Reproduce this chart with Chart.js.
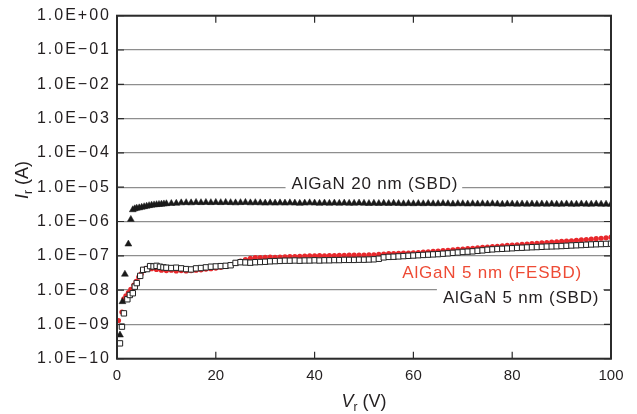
<!DOCTYPE html>
<html><head><meta charset="utf-8">
<script src="https://cdn.jsdelivr.net/npm/chart.js@4.4.1/dist/chart.umd.min.js"></script>
<style>html,body{margin:0;padding:0;background:#fff;}#wrap{width:637px;height:414px;position:relative;}</style>
</head><body><div id="wrap"><canvas id="c"></canvas></div>
<script>
// ---- data ----
const xTickValues = [0, 20, 40, 60, 80, 100];
const yTickValues = [1e-10, 1e-9, 1e-8, 1e-7, 1e-6, 1e-5, 1e-4, 1e-3, 1e-2, 1e-1, 1];
const yTickLabels = ['1.0E\u221210','1.0E\u221209','1.0E\u221208','1.0E\u221207','1.0E\u221206','1.0E\u221205','1.0E\u221204','1.0E\u221203','1.0E\u221202','1.0E\u221201','1.0E+00'];

// AlGaN 20 nm (SBD) – black triangles
const v20 = [0.6,1.1,1.6,2.3,2.8,3.2,3.6,4.0,4.5,5.0,5.5,6.0,6.5,7.0,7.5,8.0,8.5,9.0,9.5,10,
 11,12,13,14,15,16,17,18,19,20,21,22,23,24,25,26,27,28,29,30,31,32,33,34,35,36,37,38,39,40,
 41,42,43,44,45,46,47,48,49,50,51,52,53,54,55,56,57,58,59,60,61,62,63,64,65,66,67,68,69,70,
 71,72,73,74,75,76,77,78,79,80,81,82,83,84,85,86,87,88,89,90,91,92,93,94,95,96,97,98,99,100];
const i20 = [4.9e-10,4.6e-9,2.9e-8,2.2e-7,1.15e-6,2.2e-6,2.35e-6,2.45e-6,2.5e-6,2.6e-6,2.7e-6,2.8e-6,2.9e-6,3.0e-6,3.05e-6,3.1e-6,3.15e-6,3.2e-6,3.25e-6,3.3e-6,
 3.35e-6,3.4e-6,3.5e-6,3.55e-6,3.5e-6,3.6e-6,3.55e-6,3.6e-6,3.55e-6,3.6e-6,
 3.55e-6,3.6e-6,3.55e-6,3.5e-6,3.55e-6,3.6e-6,3.5e-6,3.55e-6,3.5e-6,3.45e-6,
 3.5e-6,3.45e-6,3.5e-6,3.45e-6,3.5e-6,3.45e-6,3.4e-6,3.45e-6,3.5e-6,3.45e-6,
 3.4e-6,3.45e-6,3.4e-6,3.45e-6,3.4e-6,3.45e-6,3.4e-6,3.4e-6,3.45e-6,3.4e-6,
 3.35e-6,3.4e-6,3.35e-6,3.4e-6,3.35e-6,3.4e-6,3.35e-6,3.3e-6,3.35e-6,3.3e-6,
 3.35e-6,3.3e-6,3.35e-6,3.3e-6,3.3e-6,3.35e-6,3.3e-6,3.25e-6,3.3e-6,3.3e-6,
 3.25e-6,3.3e-6,3.25e-6,3.3e-6,3.25e-6,3.3e-6,3.25e-6,3.2e-6,3.25e-6,3.25e-6,
 3.2e-6,3.25e-6,3.2e-6,3.25e-6,3.2e-6,3.25e-6,3.2e-6,3.25e-6,3.2e-6,3.2e-6,
 3.25e-6,3.2e-6,3.2e-6,3.25e-6,3.2e-6,3.2e-6,3.25e-6,3.2e-6,3.2e-6,3.2e-6];

// AlGaN 5 nm (SBD) – open squares
const v5 = [0.6,1.0,1.4,2.1,2.6,3.2,3.6,4.0,4.7,5.3,6.1,6.7,7.4,8.0,8.7,9.4,10,
 11,12,13,14,15,16,17,18,19,20,21,22,23,24,25,26,27,28,29,30,31,32,33,34,35,36,37,38,39,40,
 41,42,43,44,45,46,47,48,49,50,51,52,53,54,55,56,57,58,59,60,61,62,63,64,65,66,67,68,69,70,
 71,72,73,74,75,76,77,78,79,80,81,82,83,84,85,86,87,88,89,90,91,92,93,94,95,96,97,98,99,100];
const i5 = [2.8e-10,8.6e-10,2.1e-9,5.4e-9,7.2e-9,8.1e-9,1.26e-8,1.6e-8,2.6e-8,3.9e-8,4.1e-8,5.0e-8,4.9e-8,5.1e-8,4.8e-8,4.6e-8,4.5e-8,
 4.4e-8,4.5e-8,4.3e-8,4.1e-8,4.0e-8,4.3e-8,4.4e-8,4.6e-8,4.8e-8,4.9e-8,
 5.0e-8,5.1e-8,5.3e-8,6.2e-8,6.5e-8,6.4e-8,6.3e-8,6.5e-8,6.6e-8,6.7e-8,
 6.9e-8,7.0e-8,7.1e-8,7.2e-8,7.2e-8,7.3e-8,7.2e-8,7.3e-8,7.3e-8,7.4e-8,
 7.3e-8,7.4e-8,7.4e-8,7.5e-8,7.5e-8,7.6e-8,7.6e-8,7.6e-8,7.7e-8,7.7e-8,
 7.8e-8,7.9e-8,8.2e-8,9.0e-8,9.3e-8,9.4e-8,9.6e-8,9.8e-8,1.0e-7,1.02e-7,
 1.04e-7,1.06e-7,1.08e-7,1.1e-7,1.12e-7,1.15e-7,1.18e-7,1.22e-7,1.25e-7,1.3e-7,
 1.32e-7,1.35e-7,1.4e-7,1.44e-7,1.5e-7,1.54e-7,1.58e-7,1.6e-7,1.63e-7,1.66e-7,
 1.7e-7,1.72e-7,1.75e-7,1.78e-7,1.8e-7,1.83e-7,1.86e-7,1.88e-7,1.9e-7,1.93e-7,
 1.96e-7,2.0e-7,2.03e-7,2.06e-7,2.1e-7,2.14e-7,2.17e-7,2.2e-7,2.22e-7,2.25e-7];

// AlGaN 5 nm (FESBD) – red circles
const vFe = [0.3,1.0,1.4,1.8,2.3,2.8,3.4,3.9,4.4,4.9,5.3,5.8,6.3,7.0,8,9,10,
 11,12,13,14,15,16,17,18,19,20,21,22,23,24,25,26,27,28,29,30,31,32,33,34,35,36,37,38,39,40,
 41,42,43,44,45,46,47,48,49,50,51,52,53,54,55,56,57,58,59,60,61,62,63,64,65,66,67,68,69,70,
 71,72,73,74,75,76,77,78,79,80,81,82,83,84,85,86,87,88,89,90,91,92,93,94,95,96,97,98,99,100];
const iFe = [1.3e-9,2.3e-9,5.6e-9,6.8e-9,8.5e-9,1.05e-8,1.4e-8,1.8e-8,2.4e-8,3.0e-8,3.8e-8,4.2e-8,4.4e-8,4.2e-8,4.0e-8,3.8e-8,3.7e-8,
 3.8e-8,3.6e-8,3.7e-8,3.6e-8,3.7e-8,3.8e-8,3.9e-8,4.1e-8,4.2e-8,4.4e-8,
 4.6e-8,4.9e-8,5.4e-8,6.2e-8,7.0e-8,7.8e-8,8.4e-8,8.8e-8,8.9e-8,9.0e-8,
 9.1e-8,9.0e-8,9.2e-8,9.3e-8,9.4e-8,9.5e-8,9.7e-8,9.8e-8,1.0e-7,1.0e-7,
 1.01e-7,1.0e-7,1.02e-7,1.02e-7,1.03e-7,1.03e-7,1.04e-7,1.04e-7,1.05e-7,1.05e-7,
 1.06e-7,1.07e-7,1.1e-7,1.13e-7,1.15e-7,1.16e-7,1.18e-7,1.19e-7,1.2e-7,1.22e-7,
 1.25e-7,1.28e-7,1.31e-7,1.34e-7,1.37e-7,1.41e-7,1.45e-7,1.49e-7,1.53e-7,1.57e-7,
 1.61e-7,1.65e-7,1.7e-7,1.75e-7,1.8e-7,1.85e-7,1.9e-7,1.95e-7,2.0e-7,2.05e-7,
 2.1e-7,2.15e-7,2.2e-7,2.26e-7,2.32e-7,2.38e-7,2.44e-7,2.5e-7,2.56e-7,2.62e-7,
 2.68e-7,2.75e-7,2.82e-7,2.9e-7,2.98e-7,3.06e-7,3.15e-7,3.25e-7,3.35e-7,3.5e-7];

const seriesNames = ['AlGaN 20 nm (SBD)', 'AlGaN 5 nm (SBD)', 'AlGaN 5 nm (FESBD)'];

// ---- presentation ----
const FONT = "'Liberation Sans', Arial, Helvetica, sans-serif";
const INK = '#231f20';
const annotations = [
  {text: seriesNames[0], color: INK, x: 52.2, y: 8.86e-6, bg: true},
  {text: seriesNames[2], color: '#ee4b35', x: 75.95, y: 2.21e-8, bg: false},
  {text: seriesNames[1], color: INK, x: 81.8, y: 4.12e-9, bg: true}
];

const pts = (xs, ys) => xs.map((x, k) => ({x: x, y: ys[k]}));

const ySpacing = {
  id: 'ySpacing',
  beforeDraw(chart) {
    const s = chart.scales.y;
    if (!s._patched) {
      const orig = s.drawLabels;
      s.drawLabels = function (area) {
        const ctx = this.ctx; ctx.save(); ctx.letterSpacing = '2px'; orig.call(this, area); ctx.restore();
      };
      s._patched = true;
    }
  }
};

const labelsPlugin = {
  id: 'labels',
  beforeDatasetsDraw(chart) {
    const ctx = chart.ctx, xs = chart.scales.x, ys = chart.scales.y;
    ctx.save();
    ctx.font = '17px ' + FONT;
    ctx.letterSpacing = '0.8px';
    ctx.textBaseline = 'alphabetic';
    ctx.textAlign = 'left';
    annotations.forEach(a => {
      const w = ctx.measureText(a.text).width;
      const cx = xs.getPixelForValue(a.x), by = ys.getPixelForValue(a.y);
      const left = cx - w / 2;
      if (a.bg) {
        ctx.fillStyle = '#fff';
        ctx.fillRect(left - 6, by - 18, w + 10, 23);
      }
      ctx.fillStyle = a.color;
      ctx.fillText(a.text, left, by);
    });
    ctx.restore();
  }
};

const framePlugin = {
  id: 'frame',
  afterDatasetsDraw(chart) {
    const ctx = chart.ctx, a = chart.chartArea, xs = chart.scales.x, ys = chart.scales.y;
    ctx.save();
    ctx.strokeStyle = '#2b2b2b';
    ctx.lineWidth = 1.2;
    ctx.beginPath();
    yTickValues.forEach(v => {
      const y = ys.getPixelForValue(v);
      ctx.moveTo(a.left, y); ctx.lineTo(a.left + 7, y);
      ctx.moveTo(a.right, y); ctx.lineTo(a.right - 7, y);
    });
    xTickValues.forEach(v => {
      const x = xs.getPixelForValue(v);
      ctx.moveTo(x, a.bottom); ctx.lineTo(x, a.bottom - 7);
      ctx.moveTo(x, a.top); ctx.lineTo(x, a.top + 7);
    });
    ctx.stroke();
    ctx.lineWidth = 2;
    ctx.strokeRect(a.left, a.top, a.right - a.left, a.bottom - a.top);
    ctx.restore();
  },
  afterDraw(chart) {
    const ctx = chart.ctx, a = chart.chartArea;
    ctx.save();
    ctx.fillStyle = INK;
    ctx.textBaseline = 'alphabetic';
    const parts = (p) => p.map(q => { ctx.font = q.f; return ctx.measureText(q.t).width; });
    const draw = (p, x0, y0) => {
      const ws = parts(p); let x = x0;
      p.forEach((q, k) => { ctx.font = q.f; ctx.fillText(q.t, x, y0 + (q.dy || 0)); x += ws[k]; });
    };
    const xt = [{t: 'V', f: 'italic 18px ' + FONT}, {t: 'r', f: '12px ' + FONT, dy: 4}, {t: ' (V)', f: '18px ' + FONT}];
    const wx = parts(xt).reduce((s, w) => s + w, 0);
    draw(xt, (a.left + a.right) / 2 - wx / 2, 407);
    const yt = [{t: 'I', f: 'italic 18px ' + FONT}, {t: 'r', f: '12px ' + FONT, dy: 4}, {t: ' (A)', f: '18px ' + FONT}];
    const wy = parts(yt).reduce((s, w) => s + w, 0);
    ctx.translate(28, 180);
    ctx.rotate(-Math.PI / 2);
    draw(yt, -wy / 2, 0);
    ctx.restore();
  }
};

new Chart(document.getElementById('c'), {
  type: 'scatter',
  data: {
    datasets: [
      {label: seriesNames[0], data: pts(v20, i20), pointStyle: 'triangle', pointRadius: 4,
       backgroundColor: '#1a1a1a', borderColor: '#1a1a1a', borderWidth: 0.5},
      {label: seriesNames[1], data: pts(v5, i5), pointStyle: 'rect', pointRadius: 3.8,
       backgroundColor: '#ffffff', borderColor: '#222222', borderWidth: 1},
      {label: seriesNames[2], data: pts(vFe, iFe), pointStyle: 'circle', pointRadius: 2.6,
       backgroundColor: '#e8282c', borderColor: '#e8282c', borderWidth: 0}
    ]
  },
  options: {
    responsive: true, maintainAspectRatio: false, animation: false, events: [],
    layout: {padding: {left: 0, right: 26, top: 15.7, bottom: 0}},
    plugins: {legend: {display: false}, tooltip: {enabled: false}},
    scales: {
      x: {
        type: 'linear', min: 0, max: 100,
        afterBuildTicks: s => { s.ticks = xTickValues.map(v => ({value: v})); },
        afterFit: s => { s.height = 55.3; },
        ticks: {font: {family: FONT, size: 15}, color: INK, padding: 8, maxRotation: 0, autoSkip: false},
        grid: {display: false, drawTicks: false, tickLength: 0},
        border: {display: false}
      },
      y: {
        type: 'logarithmic', min: 1e-10, max: 1,
        afterBuildTicks: s => { s.ticks = yTickValues.map(v => ({value: v})); },
        afterFit: s => { s.width = 117; },
        ticks: {font: {family: FONT, size: 16}, color: INK, padding: 6, autoSkip: false,
                callback: (v, idx) => yTickLabels[idx]},
        grid: {color: '#8e8e8e', lineWidth: 1.3, drawTicks: false, tickLength: 0},
        border: {display: false}
      }
    }
  },
  plugins: [ySpacing, labelsPlugin, framePlugin]
});
</script></body></html>
